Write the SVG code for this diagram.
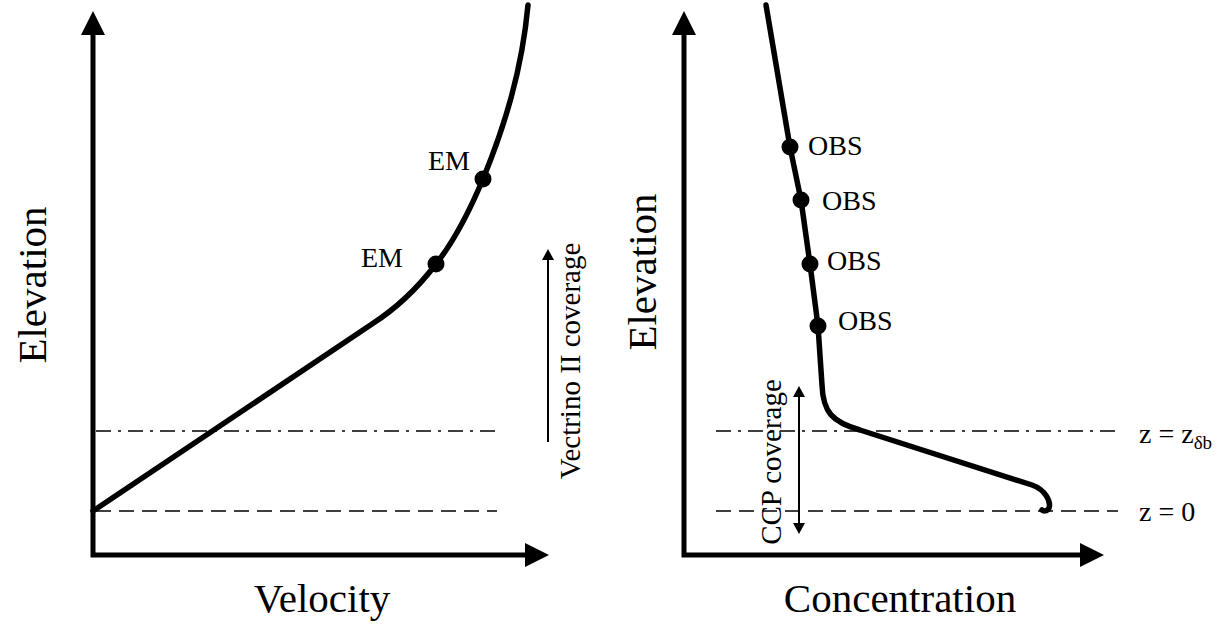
<svg xmlns="http://www.w3.org/2000/svg" width="1225" height="624" viewBox="0 0 1225 624">
<style>
.axis{stroke:#000;stroke-width:5;fill:none}
.curve{stroke:#000;stroke-width:5.5;fill:none;stroke-linejoin:round;stroke-linecap:round}
.dd{stroke:#000;stroke-width:1.6;stroke-dasharray:15 7 3 7;fill:none}
.dash{stroke:#000;stroke-width:1.6;stroke-dasharray:15 8;fill:none}
.thin{stroke:#000;stroke-width:2;fill:none}
.t{font-family:"Liberation Serif","Times New Roman",serif;fill:#000}
.big{font-size:41px}
.mid{font-size:28px}
.cov{font-size:29px}
</style>
<rect width="1225" height="624" fill="#fff"/>
<g id="left-panel">
  <g id="left-axes">
    <path class="axis" d="M93,34 V555 H526"/>
    <polygon points="93,11 81,35 105,35"/>
    <polygon points="549,555 525,543 525,567"/>
  </g>
  <g id="left-reflines">
    <line class="dd" x1="96" y1="431" x2="497" y2="431"/>
    <line class="dash" x1="96" y1="511" x2="497" y2="511"/>
  </g>
  <g id="velocity-profile">
    <path class="curve" d="M93,511 L372,324 C400,306 420,285 436,264 C455,240 470,210 483,179 C505,125 522,70 528,5"/>
  </g>
  <g id="em1">
    <circle cx="483" cy="179" r="8.5"/>
    <text class="t mid" x="428" y="170">EM</text>
  </g>
  <g id="em2">
    <circle cx="436" cy="264" r="8.5"/>
    <text class="t mid" x="361" y="267">EM</text>
  </g>
  <g id="vectrino">
    <line class="thin" x1="548" y1="442" x2="548" y2="258"/>
    <polygon points="548,249 542,260 554,260"/>
    <text class="t cov" text-anchor="middle" transform="translate(580,361) rotate(-90)">Vectrino II coverage</text>
  </g>
  <text class="t big" text-anchor="middle" transform="translate(46,285) rotate(-90)">Elevation</text>
  <text class="t big" text-anchor="middle" x="322" y="612">Velocity</text>
</g>
<g id="right-panel">
  <g id="right-axes">
    <path class="axis" d="M684,34 V555 H1081"/>
    <polygon points="684,11 672,35 696,35"/>
    <polygon points="1104,555 1080,543 1080,567"/>
  </g>
  <g id="right-reflines">
    <line class="dd" x1="716" y1="431" x2="1118" y2="431"/>
    <line class="dash" x1="716" y1="511" x2="1118" y2="511"/>
    <text class="t mid" x="1139" y="443">z = z<tspan font-size="19" dy="6">δb</tspan></text>
    <text class="t mid" x="1139" y="521">z = 0</text>
  </g>
  <g id="concentration-profile">
    <path class="curve" d="M766,5 L790,147 L801,200 L810,264 L818,326 L822,385 C823,412 832,422 860,430 L1032,485 C1046,490 1051,502 1049,508 C1047,512 1043,511 1042,510"/>
  </g>
  <g id="obs1"><circle cx="790" cy="147" r="8.5"/><text class="t mid" x="808" y="155">OBS</text></g>
  <g id="obs2"><circle cx="801" cy="200" r="8.5"/><text class="t mid" x="822" y="210">OBS</text></g>
  <g id="obs3"><circle cx="810" cy="264" r="8.5"/><text class="t mid" x="827" y="270">OBS</text></g>
  <g id="obs4"><circle cx="818" cy="326" r="8.5"/><text class="t mid" x="838" y="330">OBS</text></g>
  <g id="ccp">
    <line class="thin" x1="799" y1="395" x2="799" y2="525"/>
    <polygon points="799,386 793,397 805,397"/>
    <polygon points="799,534 793,523 805,523"/>
    <text class="t cov" text-anchor="middle" transform="translate(781,462) rotate(-90)">CCP coverage</text>
  </g>
  <text class="t big" text-anchor="middle" transform="translate(656,272) rotate(-90)">Elevation</text>
  <text class="t big" text-anchor="middle" x="900" y="612">Concentration</text>
</g>
</svg>
